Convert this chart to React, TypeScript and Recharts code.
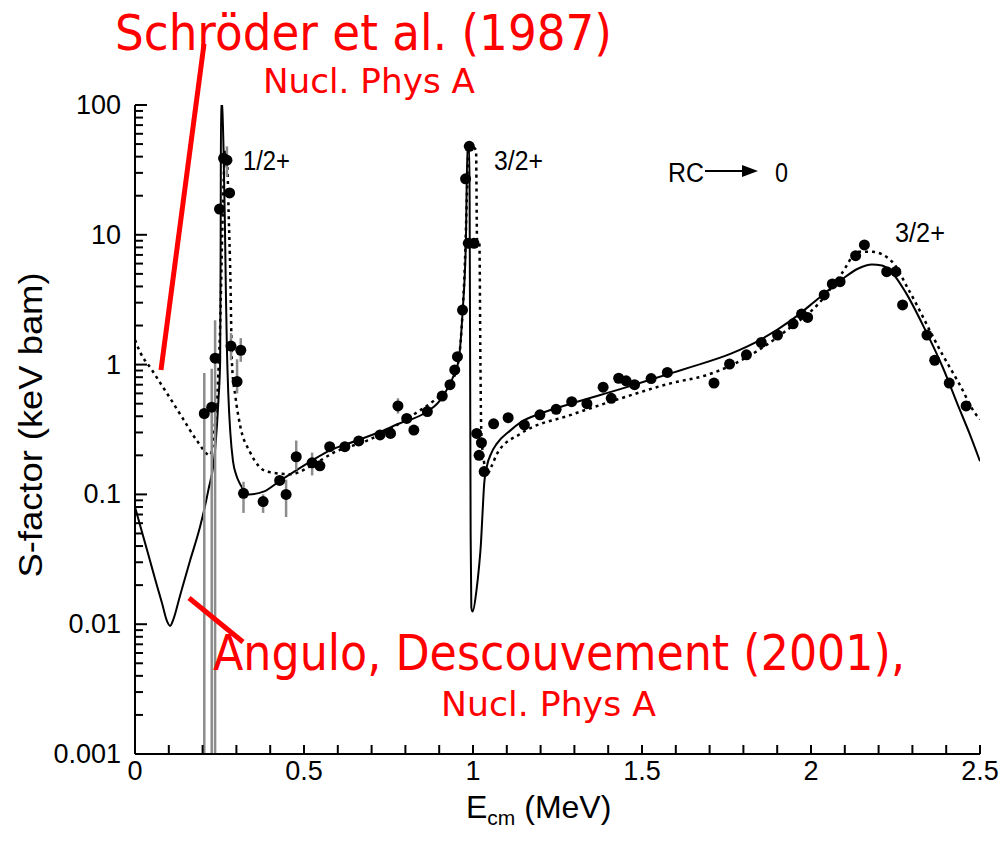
import React from "react";
import {
  ComposedChart,
  Line,
  Scatter,
  ErrorBar,
  XAxis,
  YAxis,
} from "recharts";

// Angulo & Descouvement (2001) – solid curve
const anguloE = [
  0, 0.02, 0.04, 0.06, 0.08, 0.095, 0.104, 0.113, 0.133, 0.163, 0.193, 0.217,
  0.237, 0.247, 0.252, 0.2535, 0.2545, 0.2575, 0.262, 0.266, 0.269, 0.272,
  0.276, 0.282, 0.29, 0.3, 0.311, 0.336, 0.38, 0.43, 0.52, 0.58, 0.657, 0.72,
  0.78, 0.855, 0.9, 0.924, 0.945, 0.958, 0.969, 0.979, 0.9835, 0.9885, 0.99,
  0.9915, 0.993, 0.995, 0.999, 1.01, 1.018, 1.023, 1.028, 1.033, 1.04, 1.055,
  1.07, 1.11, 1.142, 1.2, 1.29, 1.438, 1.587, 1.646, 1.765, 1.85, 1.942, 2.02,
  2.09, 2.14, 2.18, 2.21, 2.24, 2.28, 2.338, 2.39, 2.437, 2.47, 2.5,
];
const anguloS = [
  0.08, 0.052, 0.034, 0.022, 0.0145, 0.0105, 0.0097, 0.0108, 0.0165, 0.031,
  0.057, 0.108, 0.22, 0.54, 1.08, 10, 105, 100, 45, 12, 3.5, 1.3, 0.6, 0.3,
  0.18, 0.14, 0.12, 0.1, 0.105, 0.128, 0.18, 0.22, 0.26, 0.3, 0.35, 0.42, 0.52,
  0.65, 0.85, 1.1, 2.5, 9, 48, 48, 20, 1, 0.05, 0.0135, 0.0125, 0.018, 0.028,
  0.04, 0.07, 0.12, 0.16, 0.21, 0.245, 0.31, 0.36, 0.42, 0.5, 0.65, 0.86, 0.96,
  1.22, 1.55, 2.2, 3.2, 4.5, 5.5, 5.9, 5.8, 5.1, 3.6, 1.85, 0.95, 0.47, 0.29,
  0.18,
];

// Schröder et al. (1987) – dotted curve
const schroderE = [
  0, 0.015, 0.05, 0.075, 0.104, 0.14, 0.183, 0.222, 0.235, 0.245, 0.252, 0.258,
  0.263, 0.268, 0.273, 0.277, 0.282, 0.287, 0.297, 0.311, 0.341, 0.39, 0.46,
  0.52, 0.588, 0.687, 0.835, 0.885, 0.934, 0.958, 0.969, 0.976, 0.982, 0.987,
  0.995, 1.009, 1.012, 1.019, 1.022, 1.024, 1.028, 1.043, 1.055, 1.073, 1.142,
  1.29, 1.438, 1.587, 1.691, 1.765, 1.942, 2.02, 2.09, 2.14, 2.18, 2.24, 2.289,
  2.387, 2.44, 2.486, 2.5,
];
const schroderS = [
  1.55, 1.25, 0.91, 0.72, 0.55, 0.39, 0.26, 0.2, 0.32, 0.7, 2, 10, 30, 45, 35,
  15, 5, 1.0, 0.57, 0.34, 0.21, 0.15, 0.143, 0.165, 0.21, 0.26, 0.43, 0.53,
  0.72, 1.1, 2.5, 6, 20, 49, 48, 45, 9, 8.5, 1, 0.35, 0.22, 0.145, 0.165, 0.21,
  0.295, 0.41, 0.55, 0.72, 0.83, 0.99, 1.96, 2.9, 5.0, 7.4, 7.4, 6.2, 3.76,
  1.22, 0.7, 0.42, 0.38,
];

// measured points (null = no error bar)
const pointE = [
  0.205, 0.227, 0.237, 0.25, 0.262, 0.272, 0.28, 0.284, 0.302, 0.313, 0.321,
  0.379, 0.428, 0.447, 0.477, 0.524, 0.547, 0.576, 0.621, 0.662, 0.725, 0.756,
  0.778, 0.804, 0.825, 0.865, 0.909, 0.932, 0.946, 0.954, 0.969, 0.978, 0.989,
  0.986, 1.003, 1.011, 1.018, 1.025, 1.033, 1.061, 1.104, 1.152, 1.198, 1.246,
  1.292, 1.337, 1.385, 1.409, 1.431, 1.453, 1.478, 1.527, 1.575, 1.713, 1.759,
  1.809, 1.853, 1.901, 1.947, 1.972, 1.99, 2.039, 2.063, 2.086, 2.132, 2.158,
  2.224, 2.251, 2.271, 2.343, 2.366, 2.409, 2.459,
];
const pointS = [
  0.42, 0.47, 1.12, 15.8, 38.8, 37.6, 21, 1.39, 0.74, 1.29, 0.102, 0.088, 0.128,
  0.1, 0.195, 0.175, 0.166, 0.233, 0.233, 0.258, 0.287, 0.295, 0.48, 0.385,
  0.313, 0.435, 0.573, 0.7, 0.91, 1.15, 2.63, 27, 48, 8.6, 8.6, 0.295, 0.2,
  0.25, 0.15, 0.35, 0.39, 0.343, 0.41, 0.452, 0.518, 0.5, 0.67, 0.55, 0.785,
  0.75, 0.7, 0.78, 0.87, 0.72, 1.01, 1.19, 1.48, 1.69, 2.06, 2.45, 2.31, 3.44,
  4.18, 4.35, 6.9, 8.35, 5.2, 5.2, 2.88, 1.69, 1.08, 0.72, 0.48,
];
const barLow: (number | null)[] = [
  0.001, 0.001, 0.001, null, null, 28, null, 1.08, 0.6, 1.05, 0.072, 0.072,
  null, 0.067, 0.155, 0.14, null, null, null, null, null, null, 0.42,
];
const barHigh: (number | null)[] = [
  0.86, 0.93, 2.2, null, null, 48, null, 1.75, 1.1, 1.6, 0.125, 0.1, null, 0.13,
  0.26, 0.21, null, null, null, null, null, null, 0.55,
];

const xTicks = [
  0, 0.1, 0.2, 0.3, 0.4, 0.5, 0.6, 0.7, 0.8, 0.9, 1, 1.1, 1.2, 1.3, 1.4, 1.5,
  1.6, 1.7, 1.8, 1.9, 2, 2.1, 2.2, 2.3, 2.4, 2.5,
];
const xLabels = [0, 0.5, 1, 1.5, 2, 2.5];
const yMajor = [0.001, 0.01, 0.1, 1, 10, 100];
const yMinorSteps = [2, 3, 4, 5, 6, 7, 8, 9];
const yMinor = yMajor.slice(0, -1).flatMap((m) => yMinorSteps.map((k) => m * k));

const anguloData = anguloE.map((e, i) => ({ e, s: anguloS[i] }));
const schroderData = schroderE.map((e, i) => ({ e, s: schroderS[i] }));
const pointData = pointE.map((e, i) => {
  const lo = barLow[i];
  const hi = barHigh[i];
  return {
    e,
    s: pointS[i],
    err: lo != null && hi != null ? [pointS[i] - lo, hi - pointS[i]] : [0, 0],
  };
});

// chart geometry
const W = 1000;
const H = 849;
const margin = { top: 105, right: 20, bottom: 55, left: 65 };
const Y_AXIS_W = 70;
const X_AXIS_H = 40;
const plotLeft = margin.left + Y_AXIS_W;
const plotTop = margin.top;
const plotBottom = H - margin.bottom - X_AXIS_H;
// log position of a y value, for the tick comb on the left edge
const yPix = (v: number) =>
  plotTop + ((2 - Math.log10(v)) / 5) * (plotBottom - plotTop);

const AXIS_FONT = "'Liberation Sans', Arial, sans-serif";
const RED_FONT = "'Comic Sans MS', 'DejaVu Sans', sans-serif";
const frame = { stroke: "#000", strokeWidth: 2 };

function YTick(props: any) {
  const { x, y, payload } = props;
  return (
    <text x={x - 14} y={y + 9} textAnchor="end" fontSize={27} fontFamily={AXIS_FONT} fill="#000">
      {String(payload.value)}
    </text>
  );
}

function XTick(props: any) {
  const { x, y, payload } = props;
  const v = payload.value as number;
  const labelled = xLabels.some((l) => Math.abs(l - v) < 1e-6);
  return (
    <g>
      <path d={`M${x},${y}v-9`} stroke="#000" strokeWidth={2} fill="none" />
      {labelled && (
        <text x={x} y={y + 26} textAnchor="middle" fontSize={27} fontFamily={AXIS_FONT} fill="#000">
          {String(v)}
        </text>
      )}
    </g>
  );
}

function Dot(props: any) {
  const { cx, cy } = props;
  if (cx == null || cy == null) return <g />;
  return <circle cx={cx} cy={cy} r={5.5} fill="#000" />;
}

export default function App() {
  return (
    <div style={{ position: "absolute", left: 0, top: 0, width: W, height: H, background: "#fff" }}>
      <ComposedChart width={W} height={H} margin={margin}>
        <XAxis
          dataKey="e"
          type="number"
          domain={[0, 2.5]}
          ticks={xTicks}
          interval={0}
          tick={XTick}
          tickLine={false}
          tickSize={0}
          tickMargin={0}
          axisLine={frame}
          height={X_AXIS_H}
          allowDataOverflow
        />
        <XAxis
          xAxisId="top"
          orientation="top"
          type="number"
          domain={[0, 2.5]}
          tick={false}
          tickLine={false}
          axisLine={frame}
          height={0}
        />
        <YAxis
          type="number"
          scale="log"
          domain={[0.001, 100]}
          ticks={yMajor}
          interval={0}
          tick={YTick}
          tickLine={false}
          tickSize={0}
          tickMargin={0}
          axisLine={frame}
          width={Y_AXIS_W}
          allowDataOverflow
        />
        <YAxis
          yAxisId="right"
          orientation="right"
          type="number"
          domain={[0, 1]}
          tick={false}
          tickLine={false}
          axisLine={frame}
          width={0}
        />
        <Line
          data={schroderData}
          dataKey="s"
          type="monotone"
          stroke="#000"
          strokeWidth={2.5}
          strokeDasharray="3 4"
          dot={false}
          activeDot={false}
          isAnimationActive={false}
        />
        <Line
          data={anguloData}
          dataKey="s"
          type="monotone"
          stroke="#000"
          strokeWidth={2}
          dot={false}
          activeDot={false}
          isAnimationActive={false}
        />
        <Scatter data={pointData} dataKey="s" shape={Dot} isAnimationActive={false}>
          <ErrorBar dataKey="err" direction="y" width={0} stroke="#8c8c8c" strokeWidth={2.5} />
        </Scatter>
      </ComposedChart>

      <svg
        width={W}
        height={H}
        style={{ position: "absolute", left: 0, top: 0, pointerEvents: "none" }}
      >
        {/* inward tick comb on the log axis */}
        {yMajor.map((v) => (
          <line key={`M${v}`} x1={plotLeft} x2={plotLeft + 12} y1={yPix(v)} y2={yPix(v)} stroke="#000" strokeWidth={2} />
        ))}
        {yMinor.map((v) => (
          <line key={`m${v}`} x1={plotLeft} x2={plotLeft + 8} y1={yPix(v)} y2={yPix(v)} stroke="#000" strokeWidth={2} />
        ))}

        {/* axis titles */}
        <text
          transform="translate(42,425) rotate(-90)"
          textAnchor="middle"
          fontSize={34}
          fontFamily={AXIS_FONT}
          textLength={305}
          lengthAdjust="spacingAndGlyphs"
        >
          S-factor (keV bam)
        </text>
        <text x={466} y={818} fontSize={32} fontFamily={AXIS_FONT}>
          E
          <tspan fontSize={21} dy={7}>cm</tspan>
          <tspan dy={-7}> (MeV)</tspan>
        </text>

        {/* resonance labels */}
        <text x={243} y={170} fontSize={27} fontFamily={AXIS_FONT} textLength={47} lengthAdjust="spacingAndGlyphs">
          1/2+
        </text>
        <text x={494} y={170} fontSize={27} fontFamily={AXIS_FONT} textLength={49} lengthAdjust="spacingAndGlyphs">
          3/2+
        </text>
        <text x={895} y={242} fontSize={27} fontFamily={AXIS_FONT} textLength={50} lengthAdjust="spacingAndGlyphs">
          3/2+
        </text>
        <text x={668} y={182} fontSize={27} fontFamily={AXIS_FONT} textLength={36} lengthAdjust="spacingAndGlyphs">
          RC
        </text>
        <line x1={705} y1={171} x2={746} y2={171} stroke="#000" strokeWidth={2} />
        <polygon points="742,165 758,171 742,177" fill="#000" />
        <text x={775} y={182} fontSize={27} fontFamily={AXIS_FONT} textLength={13} lengthAdjust="spacingAndGlyphs">
          0
        </text>

        {/* red annotations */}
        <line x1={204} y1={44} x2={161} y2={370} stroke="#ff0000" strokeWidth={5} />
        <line x1={189} y1={598} x2={243} y2={642} stroke="#ff0000" strokeWidth={5} />
        <text x={115} y={50} fontSize={50} fill="#ff0000" fontFamily={RED_FONT} textLength={497} lengthAdjust="spacingAndGlyphs">
          Schröder et al. (1987)
        </text>
        <text x={263} y={93} fontSize={34} fill="#ff0000" fontFamily={RED_FONT} textLength={212} lengthAdjust="spacingAndGlyphs">
          Nucl. Phys A
        </text>
        <text x={213} y={670} fontSize={50} fill="#ff0000" fontFamily={RED_FONT} textLength={692} lengthAdjust="spacingAndGlyphs">
          Angulo, Descouvement (2001),
        </text>
        <text x={441} y={716} fontSize={34} fill="#ff0000" fontFamily={RED_FONT} textLength={215} lengthAdjust="spacingAndGlyphs">
          Nucl. Phys A
        </text>
      </svg>
    </div>
  );
}
